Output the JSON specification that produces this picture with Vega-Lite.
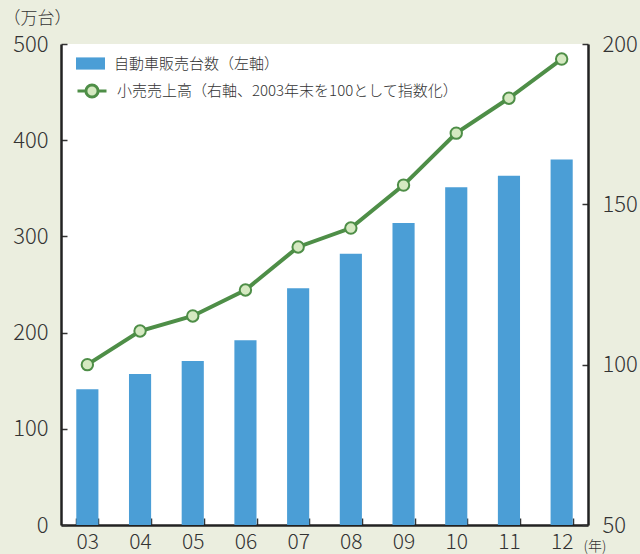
{
  "$schema": "https://vega.github.io/schema/vega-lite/v6.json",
  "width": 527,
  "height": 481,
  "autosize": {"type": "none"},
  "padding": {"left": 61, "top": 44, "right": 52, "bottom": 29},
  "background": "#EBEEDF",
  "config": {
    "view": {"fill": "white", "stroke": null},
    "font": "Noto Sans CJK JP",
    "axis": {"labelFont": "Noto Sans CJK JP", "titleFont": "Noto Sans CJK JP", "labelColor": "#333333", "titleColor": "#333333", "labelFontWeight": 300},
    "legend": {"labelFontWeight": 300}
  },
  "data": {
    "values": [
      {"year": "03", "cars": 141, "retail": 100},
      {"year": "04", "cars": 157, "retail": 110.5},
      {"year": "05", "cars": 170.5, "retail": 115.2},
      {"year": "06", "cars": 192, "retail": 123.3},
      {"year": "07", "cars": 246, "retail": 136.7},
      {"year": "08", "cars": 282, "retail": 142.6},
      {"year": "09", "cars": 314, "retail": 156},
      {"year": "10", "cars": 351, "retail": 172.2},
      {"year": "11", "cars": 363, "retail": 183.1},
      {"year": "12", "cars": 380, "retail": 195.3}
    ]
  },
  "encoding": {
    "x": {
      "field": "year", "type": "ordinal",
      "scale": {"paddingInner": 0.58, "paddingOuter": 0.29},
      "axis": {
        "title": "(年)", "titleAngle": 0, "titleX": 522, "titleY": 21, "titleAlign": "left", "titleBaseline": "middle",
        "titleFontSize": 14, "titleFontWeight": 300,
        "labelAngle": 0, "labelFontSize": 21, "labelPadding": 13,
        "tickBand": "extent", "tickSize": -7, "tickColor": "#333333", "tickWidth": 1.5,
        "domainColor": "#222222", "domainWidth": 2.5, "grid": false
      }
    }
  },
  "layer": [
    {
      "mark": {"type": "bar", "color": "#4B9ED6"},
      "encoding": {
        "y": {
          "field": "cars", "type": "quantitative",
          "scale": {"domain": [0, 500], "nice": false},
          "axis": {
            "title": "（万台）", "titleAngle": 0, "titleX": -58, "titleY": -26, "titleAlign": "left", "titleBaseline": "middle",
            "titleFontSize": 17, "titleFontWeight": 300,
            "values": [0, 100, 200, 300, 400, 500], "labelFontSize": 22, "labelPadding": 19,
            "tickSize": -6, "tickColor": "#333333", "tickWidth": 1.5,
            "domainColor": "#222222", "domainWidth": 2.5, "grid": false
          }
        },
        "fill": {
          "datum": "自動車販売台数（左軸）",
          "scale": {"range": ["#4B9ED6"]},
          "legend": {
            "title": null, "orient": "none", "legendX": 15, "legendY": 5,
            "symbolType": "M-1,-0.42H1V0.42H-1Z", "symbolSize": 841, "symbolStrokeWidth": 0,
            "labelFontSize": 15, "labelColor": "#333333", "labelOffset": 9, "labelLimit": 0
          }
        }
      }
    },
    {
      "mark": {"type": "line", "color": "#4E8E47", "strokeWidth": 4},
      "encoding": {
        "y": {
          "field": "retail", "type": "quantitative",
          "scale": {"domain": [50, 200], "nice": false},
          "axis": {
            "orient": "right", "title": null,
            "values": [50, 100, 150, 200], "labelFontSize": 22, "labelPadding": 20,
            "tickSize": -6, "tickColor": "#333333", "tickWidth": 1.5,
            "domainColor": "#222222", "domainWidth": 2.5, "grid": false
          }
        },
        "stroke": {
          "datum": "小売売上高（右軸、2003年末を100として指数化）",
          "scale": {"range": ["#4E8E47"]},
          "legend": {
            "title": null, "orient": "none", "legendX": 15, "legendY": 31,
            "symbolType": "M-1,0H-0.42M0.42,0H1M0.42,0A0.42,0.42,0,1,1,-0.42,0A0.42,0.42,0,1,1,0.42,0",
            "symbolSize": 841, "symbolStrokeWidth": 3, "symbolFillColor": "#D5E9C1",
            "labelFontSize": 15, "labelColor": "#333333", "labelOffset": 9, "labelLimit": 0
          }
        }
      }
    },
    {
      "mark": {"type": "point", "filled": true, "fill": "#D5E9C1", "stroke": "#4E8E47", "strokeWidth": 2, "size": 130, "opacity": 1},
      "encoding": {
        "y": {"field": "retail", "type": "quantitative", "scale": {"domain": [50, 200], "nice": false}, "axis": null}
      }
    }
  ],
  "resolve": {"scale": {"y": "independent", "fill": "independent", "stroke": "independent"}}
}
